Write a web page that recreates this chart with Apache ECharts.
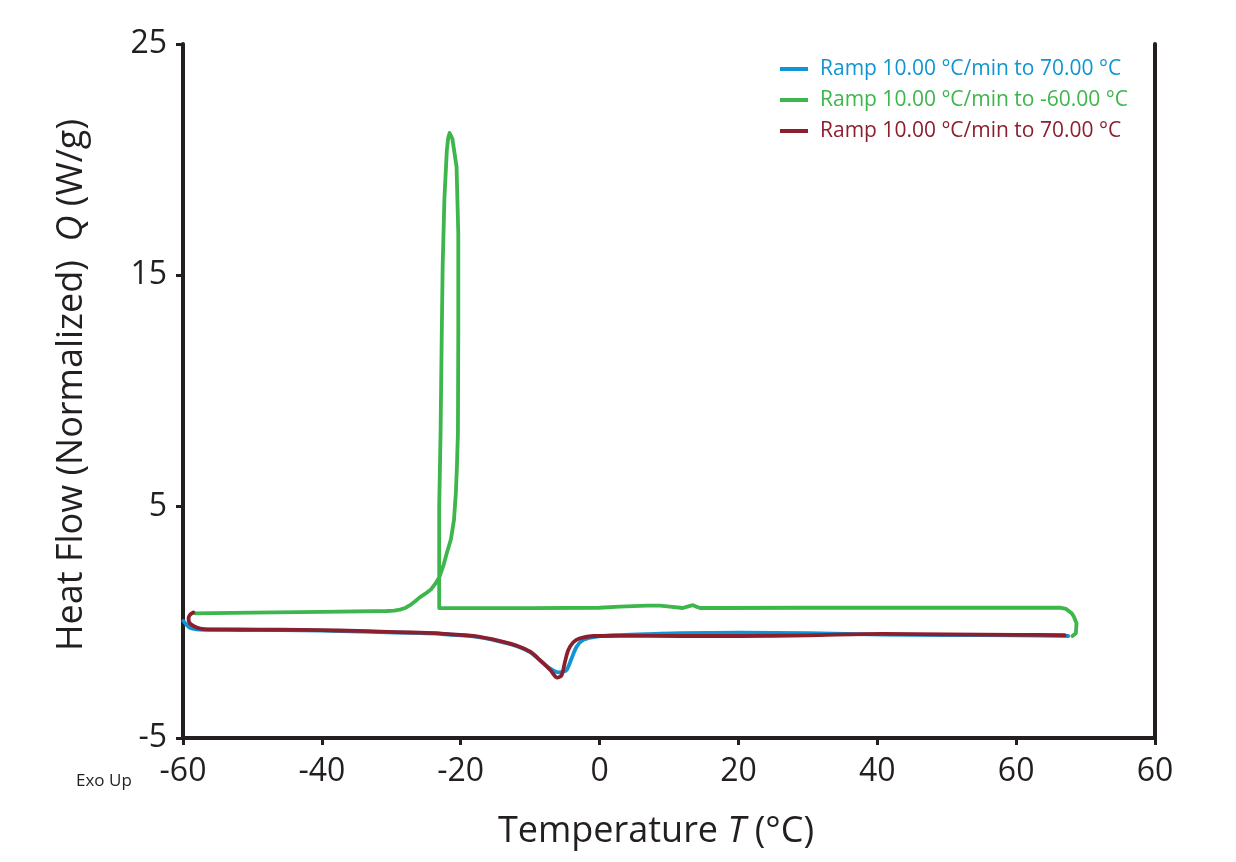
<!DOCTYPE html>
<html>
<head>
<meta charset="utf-8">
<title>Heat Flow vs Temperature</title>
<script src="https://cdn.jsdelivr.net/npm/echarts@6/dist/echarts.min.js"></script>
<style>
  html, body { margin: 0; padding: 0; background: #fff; }
  #chart { width: 1236px; height: 862px; }
</style>
</head>
<body>
<div id="chart"></div>
<script>
// series names (legend)
const names = [
  'Ramp 10.00 °C/min to 70.00 °C',
  'Ramp 10.00 °C/min to -60.00 °C',
  'Ramp 10.00 °C/min to 70.00 °C '   // trailing space so the legend keeps both entries
];
const colors = ['#0f95d4', '#3db64b', '#8c1f2e'];

// axis ticks
const xTickVals = [-60, -40, -20, 0, 20, 40, 60, 80];
const xTickLabels = ['-60', '-40', '-20', '0', '20', '40', '60', '60'];
const yTickVals = [-5, 5, 15, 25];

// first heating, [T (°C), Q (W/g)]
const heat1Pts = [
  [-59.95, 0.06], [-59.5, -0.1], [-59.0, -0.23], [-58.0, -0.3], [-57.0, -0.32],
  [-46, -0.34], [-40, -0.36], [-31.6, -0.42], [-27, -0.46], [-23, -0.5], [-18.2, -0.61],
  [-14.3, -0.83], [-11.9, -1.03], [-10.0, -1.29], [-8.6, -1.63], [-7.1, -2.0],
  [-5.94, -2.16], [-5.3, -2.14], [-4.74, -2.06], [-4.02, -1.55], [-3.3, -1.05],
  [-2.34, -0.76], [-0.42, -0.62], [3, -0.55], [8, -0.5], [11.6, -0.47], [20.2, -0.45],
  [30, -0.47], [40.8, -0.53], [50, -0.55], [60, -0.56], [67.5, -0.59]
];

// cooling, [T (°C), Q (W/g)]
const coolPts = [
  [68.1, -0.59], [68.6, -0.47], [68.7, -0.04], [68.3, 0.25], [68.0, 0.39], [67.2, 0.58],
  [66.3, 0.64], [50, 0.63], [30, 0.63], [17.3, 0.62], [14.5, 0.62], [13.9, 0.68],
  [13.45, 0.74], [12.9, 0.7], [12.0, 0.62], [10.1, 0.68], [8.7, 0.72], [6.8, 0.72],
  [2.9, 0.68], [0, 0.63], [-10, 0.61], [-23.1, 0.62],
  [-23.1, 5.0], [-22.9, 8.2], [-22.75, 12], [-22.6, 15.4], [-22.35, 18.3], [-22.0, 20.4],
  [-21.8, 20.95], [-21.6, 21.15], [-21.4, 21.1], [-21.2, 20.9], [-21.0, 20.5], [-20.6, 19.7],
  [-20.35, 16.8], [-20.35, 12.5], [-20.4, 8.2], [-20.55, 6.7], [-20.7, 5.6],
  [-20.97, 4.43], [-21.4, 3.6], [-22.0, 3.0], [-22.5, 2.45], [-23.06, 1.96],
  [-23.7, 1.65], [-24.3, 1.42], [-25.1, 1.24], [-25.9, 1.08], [-26.6, 0.9],
  [-27.3, 0.74], [-28.0, 0.62], [-28.75, 0.55], [-29.6, 0.51], [-30.6, 0.49],
  [-40, 0.45], [-50, 0.42], [-58.3, 0.39]
];

// second heating, [T (°C), Q (W/g)]
const heat2Pts = [
  [-58.5, 0.43], [-59.0, 0.32], [-59.2, 0.17], [-59.1, 0.0], [-58.75, -0.11],
  [-58.0, -0.23], [-57.0, -0.29], [-52, -0.31], [-46, -0.32], [-40, -0.34],
  [-35, -0.37], [-31.6, -0.4], [-27, -0.44], [-23, -0.48], [-18.2, -0.59],
  [-14.3, -0.81], [-11.9, -1.01], [-10.0, -1.27], [-8.6, -1.63], [-7.1, -2.06],
  [-6.09, -2.39], [-5.46, -2.28], [-4.98, -1.7], [-4.5, -1.2], [-3.78, -0.86],
  [-2.82, -0.69], [-0.9, -0.59], [2.9, -0.58], [11.6, -0.59],
  [20.2, -0.59], [30, -0.56], [40.8, -0.5], [50, -0.52], [60, -0.54], [67.0, -0.55]
];

const axisColor = '#231f20';
const font = 'Open Sans';

const chart = echarts.init(document.getElementById('chart'));

const option = {
  animation: false,
  backgroundColor: '#fff',
  textStyle: { fontFamily: font, color: axisColor },
  grid: { left: 183, right: 81, top: 44, bottom: 124, outerBoundsMode: 'none' },
  legend: {
    orient: 'vertical',
    left: 775,
    top: 53,
    icon: 'rect',
    itemWidth: 28,
    itemHeight: 4,
    itemGap: 9,
    textStyle: { fontFamily: font, fontSize: 21, lineHeight: 22, padding: [0, 0, 0, 7] },
    data: names.map((n, i) => ({ name: n, textStyle: { color: colors[i] } }))
  },
  xAxis: {
    type: 'value',
    min: -60,
    max: 80,
    name: 'Temperature {i|T} (°C)',
    nameLocation: 'middle',
    nameGap: 76,
    nameTextStyle: {
      fontFamily: font, fontSize: 36, color: axisColor, padding: [0, 26, 0, 0],
      rich: { i: { fontFamily: font, fontSize: 36, fontStyle: 'italic', color: axisColor } }
    },
    axisLine: { show: true, onZero: false, lineStyle: { color: axisColor, width: 4 } },
    axisTick: { show: true, customValues: xTickVals, length: 7, lineStyle: { color: axisColor, width: 3 } },
    axisLabel: {
      customValues: xTickVals,
      margin: 18,
      fontSize: 32,
      color: axisColor,
      formatter: v => xTickLabels[xTickVals.indexOf(v)]
    },
    splitLine: { show: false }
  },
  yAxis: [
    {
      type: 'value',
      min: -5,
      max: 25,
      name: 'Heat Flow (Normalized)  {i|Q} (W/g)',
      nameLocation: 'middle',
      nameGap: 93,
      nameTextStyle: {
        fontFamily: font, fontSize: 36, color: axisColor, padding: [0, 0, 0, 12],
        rich: { i: { fontFamily: font, fontSize: 36, fontStyle: 'italic', color: axisColor } }
      },
      axisLine: { show: true, onZero: false, lineStyle: { color: axisColor, width: 4 } },
      axisTick: { show: true, customValues: yTickVals, length: 7, lineStyle: { color: axisColor, width: 3 } },
      axisLabel: { customValues: yTickVals, margin: 16, fontSize: 32, color: axisColor },
      splitLine: { show: false }
    },
    {
      type: 'value',
      min: -5,
      max: 25,
      position: 'right',
      axisLine: { show: true, onZero: false, lineStyle: { color: axisColor, width: 4 } },
      axisTick: { show: false },
      axisLabel: { show: false },
      splitLine: { show: false }
    }
  ],
  graphic: [
    {
      type: 'text',
      left: 76,
      top: 773,
      style: { text: 'Exo Up', fontFamily: font, fontSize: 17, fill: axisColor }
    }
  ],
  series: [heat1Pts, coolPts, heat2Pts].map((pts, i) => ({
    name: names[i],
    type: 'line',
    data: pts,
    showSymbol: false,
    symbol: 'none',
    smooth: i === 1 ? false : 0.3,
    lineStyle: { color: colors[i], width: 3.8, join: 'round', cap: 'round' },
    itemStyle: { color: colors[i] },
    z: i === 2 ? 4 : 3
  }))
};

chart.setOption(option);
</script>
</body>
</html>
